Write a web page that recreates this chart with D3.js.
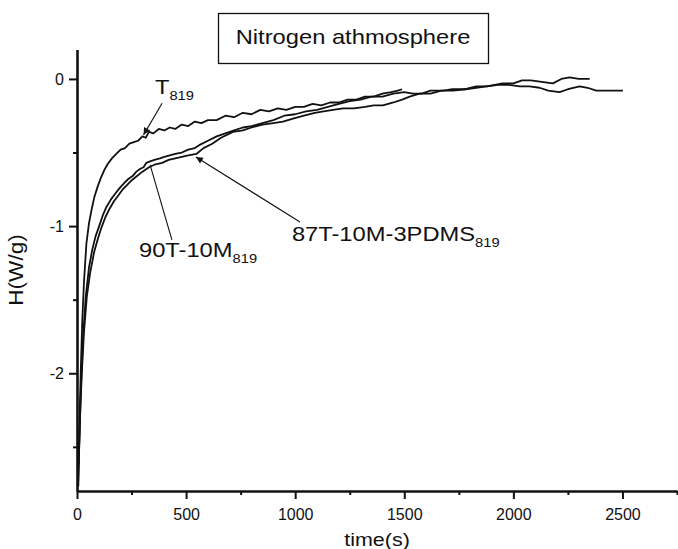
<!DOCTYPE html>
<html>
<head>
<meta charset="utf-8">
<script src="https://cdn.jsdelivr.net/npm/d3@7"></script>
<style>
  body { margin: 0; background: #fff; }
  svg { display: block; font-family: "Liberation Sans", Arial, sans-serif; }
</style>
</head>
<body>
<svg id="chart" width="678" height="549"></svg>
<script>
'use strict';

// [time(s), H(W/g)]
const seriesT819 = [
    [8,-2.62],[12,-2.3],[17,-2.0],[24,-1.65],[32,-1.38],[43,-1.12],[55,-0.98],[68,-0.88],
    [80,-0.80],[95,-0.73],[110,-0.67],[125,-0.62],[140,-0.58],[160,-0.54],[180,-0.51],
    [200,-0.48],[220,-0.47],[240,-0.44],[260,-0.43],[280,-0.42],[300,-0.39],[315,-0.40],
    [330,-0.36],[350,-0.37],[375,-0.34],[400,-0.35],[425,-0.33],[450,-0.34],[480,-0.31],
    [510,-0.32],[540,-0.29],[570,-0.30],[600,-0.28],[640,-0.28],[680,-0.25],[720,-0.26],
    [760,-0.23],[800,-0.24],[840,-0.21],[880,-0.22],[920,-0.20],[960,-0.21],[1000,-0.19],
    [1040,-0.19],[1080,-0.17],[1120,-0.18],[1160,-0.16],[1200,-0.16],[1240,-0.14],
    [1280,-0.14],[1320,-0.12],[1360,-0.12],[1400,-0.10],[1440,-0.09],[1470,-0.08],[1490,-0.07]
];
const series90T = [
    [6,-2.77],[10,-2.5],[18,-2.1],[28,-1.75],[40,-1.48],[55,-1.28],[70,-1.16],[85,-1.07],
    [104,-0.99],[120,-0.92],[135,-0.87],[155,-0.82],[175,-0.78],[196,-0.74],[215,-0.71],
    [235,-0.68],[255,-0.66],[272,-0.63],[290,-0.61],[305,-0.60],[318,-0.57],[335,-0.56],
    [355,-0.55],[380,-0.54],[400,-0.53],[425,-0.52],[450,-0.51],[480,-0.50],[510,-0.48],
    [540,-0.47],[560,-0.45],[600,-0.42],[640,-0.39],[680,-0.37],[720,-0.35],[760,-0.33],
    [800,-0.32],[850,-0.30],[900,-0.28],[950,-0.25],[1000,-0.24],[1050,-0.22],[1100,-0.21],
    [1150,-0.19],[1200,-0.17],[1250,-0.15],[1300,-0.14],[1350,-0.12],[1400,-0.12],
    [1450,-0.10],[1500,-0.09],[1540,-0.10],[1580,-0.10],[1620,-0.08],[1680,-0.08],
    [1720,-0.07],[1780,-0.07],[1830,-0.05],[1880,-0.05],[1950,-0.03],[2000,-0.03],
    [2040,-0.01],[2080,-0.01],[2130,-0.02],[2181,-0.03],[2220,0.0],[2258,0.01],[2300,0.0],[2350,0.0]
];
const series87T = [
    [5,-2.75],[9,-2.55],[15,-2.25],[22,-2.0],[32,-1.72],[45,-1.48],[60,-1.32],[78,-1.18],
    [95,-1.09],[112,-1.01],[130,-0.94],[150,-0.88],[170,-0.83],[190,-0.79],[210,-0.75],
    [230,-0.72],[250,-0.69],[275,-0.66],[300,-0.63],[330,-0.60],[360,-0.58],[390,-0.57],
    [420,-0.55],[450,-0.54],[480,-0.53],[510,-0.52],[547,-0.51],[580,-0.47],[620,-0.44],
    [660,-0.40],[715,-0.36],[760,-0.35],[800,-0.33],[850,-0.31],[900,-0.30],[944,-0.29],
    [990,-0.27],[1040,-0.25],[1090,-0.23],[1130,-0.22],[1173,-0.21],[1220,-0.20],
    [1270,-0.20],[1320,-0.19],[1360,-0.18],[1402,-0.18],[1450,-0.16],[1490,-0.14],
    [1525,-0.12],[1570,-0.10],[1620,-0.10],[1670,-0.08],[1723,-0.08],[1780,-0.07],
    [1830,-0.06],[1876,-0.05],[1930,-0.04],[1980,-0.04],[2030,-0.05],[2074,-0.05],
    [2120,-0.06],[2160,-0.08],[2212,-0.09],[2250,-0.07],[2304,-0.05],[2340,-0.06],
    [2380,-0.08],[2420,-0.08],[2460,-0.08],[2502,-0.08]
];

const xMajorTicks = [0, 500, 1000, 1500, 2000, 2500];
const xMinorTicks = [250, 750, 1250, 1750, 2250, 2750];
const yMajorTicks = [0, -1, -2];
const yMinorTicks = [-0.5, -1.5, -2.5];

const titleText = "Nitrogen athmosphere";
const xLabel = "time(s)";
const yLabel = "H(W/g)";

// label, subscript, text anchor [t,H], pointer from [t,H] to [t,H], arrowhead?
const annotations = [
    { text: "T", sub: "819", at: [357, -0.10], from: [390, -0.165], to: [305, -0.38], head: true },
    { text: "90T-10M", sub: "819", at: [284, -1.21], from: [435, -1.094], to: [335, -0.584], head: false },
    { text: "87T-10M-3PDMS", sub: "819", at: [985, -1.10], from: [1022, -0.972], to: [545, -0.53], head: true },
];

const stretch = 1.13; // the reference type is drawn a bit wide

function main() {
    const svg = d3.select("#chart");
    const x = d3.scaleLinear().domain([0, 2750]).range([77, 677]);
    const y = d3.scaleLinear().domain([-2.8, 0.2]).range([491, 49.5]);
    const plain = d => String(d); // hyphen minus, not the unicode one

    svg.append("rect").attr("width", 678).attr("height", 549).attr("fill", "#fff");

    // arrowhead
    svg.append("defs").append("marker")
        .attr("id", "head")
        .attr("viewBox", "0 0 10 10")
        .attr("refX", 10).attr("refY", 5)
        .attr("markerWidth", 9).attr("markerHeight", 7)
        .attr("markerUnits", "userSpaceOnUse")
        .attr("orient", "auto")
        .append("path").attr("d", "M0,0 L10,5 L0,10 z").attr("fill", "#111");

    // curves
    const line = d3.line().x(d => x(d[0])).y(d => y(d[1]));
    [seriesT819, series90T, series87T].forEach(s => {
        svg.append("path")
            .datum(s)
            .attr("d", line)
            .attr("fill", "none")
            .attr("stroke", "#111")
            .attr("stroke-width", 1.8)
            .attr("stroke-linejoin", "round");
    });

    // axes
    const xAxis = svg.append("g").attr("transform", `translate(0,${y(-2.8)})`)
        .call(d3.axisBottom(x).tickValues(xMajorTicks).tickSize(8).tickSizeOuter(0).tickFormat(plain));
    svg.append("g").attr("transform", `translate(0,${y(-2.8)})`)
        .call(d3.axisBottom(x).tickValues(xMinorTicks).tickSize(4).tickSizeOuter(0).tickFormat(""))
        .select(".domain").remove();
    const yAxis = svg.append("g").attr("transform", `translate(${x(0)},0)`)
        .call(d3.axisLeft(y).tickValues(yMajorTicks).tickSize(8).tickSizeOuter(0).tickFormat(plain));
    svg.append("g").attr("transform", `translate(${x(0)},0)`)
        .call(d3.axisLeft(y).tickValues(yMinorTicks).tickSize(4).tickSizeOuter(0).tickFormat(""))
        .select(".domain").remove();

    svg.selectAll(".domain").style("stroke", "#111").style("stroke-width", "2.6px");
    svg.selectAll(".tick line").style("stroke", "#111").style("stroke-width", "2px");
    svg.selectAll(".tick text")
        .attr("fill", "#111")
        .style("font-size", "16px")
        .style("font-family", "'Liberation Sans', Arial, sans-serif");
    xAxis.selectAll(".tick text").attr("dy", "1.1em");
    yAxis.selectAll(".tick text").attr("x", -13);

    function wideText(px, py, rot) {
        return svg.append("text")
            .attr("transform", `translate(${px},${py}) rotate(${rot || 0}) scale(${stretch},1)`)
            .attr("fill", "#111");
    }

    // axis titles
    wideText(377, 546).attr("text-anchor", "middle").style("font-size", "19px").text(xLabel);
    wideText(23, 270, -90).attr("text-anchor", "middle").style("font-size", "20px").text(yLabel);

    // title box
    svg.append("rect")
        .attr("x", 218.5).attr("y", 13.5).attr("width", 270).attr("height", 50)
        .attr("fill", "#fff").attr("stroke", "#111").attr("stroke-width", 1.3);
    wideText(353, 44).attr("text-anchor", "middle").style("font-size", "21px").text(titleText);

    // labels and pointers
    annotations.forEach(a => {
        svg.append("line")
            .attr("x1", x(a.from[0])).attr("y1", y(a.from[1]))
            .attr("x2", x(a.to[0])).attr("y2", y(a.to[1]))
            .attr("stroke", "#111").attr("stroke-width", 1.1)
            .attr("marker-end", a.head ? "url(#head)" : null);
        const t = wideText(x(a.at[0]), y(a.at[1])).style("font-size", "21px");
        t.append("tspan").text(a.text);
        t.append("tspan").attr("dy", 6).style("font-size", "13px").text(a.sub);
    });
}

main();
</script>
</body>
</html>
